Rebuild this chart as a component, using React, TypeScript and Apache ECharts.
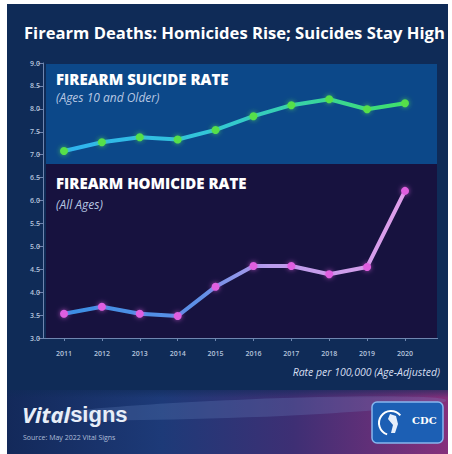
import React, { useEffect, useRef } from "react";
import * as echarts from "echarts";

const years = ["2011", "2012", "2013", "2014", "2015", "2016", "2017", "2018", "2019", "2020"];
const suicideRate = [7.08, 7.27, 7.38, 7.33, 7.54, 7.84, 8.08, 8.21, 7.99, 8.12];
const homicideRate = [3.53, 3.68, 3.53, 3.48, 4.12, 4.57, 4.57, 4.39, 4.55, 6.21];
const yMin = 3;
const yMax = 9;
const yStep = 0.5;

const chartTitle = "Firearm Deaths: Homicides Rise; Suicides Stay High";
const suicideLabel = "FIREARM SUICIDE RATE";
const suicideSub = "(Ages 10 and Older)";
const homicideLabel = "FIREARM HOMICIDE RATE";
const homicideSub = "(All Ages)";
const unitNote = "Rate per 100,000 (Age-Adjusted)";
const sourceNote = "Source: May 2022 Vital Signs";

export default function App() {
  const ref = useRef<HTMLDivElement>(null);
  useEffect(() => {
    if (!ref.current) return;
    const chart = echarts.init(ref.current, null, { renderer: "svg" });
    const font = "'Open Sans', 'Noto Sans', sans-serif";
    chart.setOption({
      animation: false,
      backgroundColor: "#ffffff",
      grid: { left: 64, right: 47, top: 63, bottom: 116 },
      xAxis: {
        type: "category",
        data: years,
        boundaryGap: false,
        axisLine: { show: false },
        axisTick: { show: true, length: 3, inside: false, lineStyle: { color: "#6f86b0" }, alignWithLabel: true },
        axisLabel: { color: "#b4c3dc", fontSize: 7, fontFamily: font, fontWeight: 600, margin: 12 },
        splitLine: { show: false },
      },
      yAxis: {
        type: "value",
        min: yMin,
        max: yMax,
        interval: yStep,
        offset: 21,
        axisLine: { show: true, lineStyle: { color: "#6f86b0", width: 1 } },
        axisTick: { show: true, length: 5, lineStyle: { color: "#6f86b0" } },
        axisLabel: {
          color: "#b4c3dc",
          fontSize: 7,
          fontFamily: font,
          fontWeight: 600,
          margin: 3,
          formatter: (v: number) => v.toFixed(1),
        },
        splitLine: { show: false },
      },
      graphic: [
        { type: "rect", z: -20, shape: { x: 7, y: 4, width: 441, height: 450 }, style: { fill: "#0f2b57" } },
        {
          type: "rect",
          z: -19,
          shape: { x: 7, y: 390, width: 441, height: 64 },
          style: {
            fill: new echarts.graphic.LinearGradient(0, 0, 1, 0, [
              { offset: 0, color: "#13295a" },
              { offset: 0.35, color: "#1d3a78" },
              { offset: 0.65, color: "#3e2f74" },
              { offset: 1, color: "#85307c" },
            ]),
          },
        },
        {
          type: "ellipse",
          z: -18,
          shape: { cx: 230, cy: 418, rx: 200, ry: 9 },
          rotation: 0.04,
          style: { fill: "rgba(120,150,210,0.22)" },
        },
        {
          type: "rect",
          z: -17,
          shape: { x: 7, y: 384, width: 441, height: 14 },
          style: {
            fill: new echarts.graphic.LinearGradient(0, 0, 0, 1, [
              { offset: 0, color: "rgba(15,43,87,1)" },
              { offset: 1, color: "rgba(15,43,87,0)" },
            ]),
          },
        },
        { type: "rect", z: -15, shape: { x: 46, y: 64, width: 391, height: 100 }, style: { fill: "#0c4889" } },
        { type: "rect", z: -15, shape: { x: 46, y: 164, width: 391, height: 174 }, style: { fill: "#17123f" } },
        { type: "line", z: 5, shape: { x1: 43, y1: 338.5, x2: 438, y2: 338.5 }, style: { stroke: "#6f86b0", lineWidth: 1.2 } },
        {
          type: "text",
          z: 10,
          x: 24,
          y: 32,
          style: {
            text: chartTitle,
            fill: "#ffffff",
            font: `bold 16.6px ${font}`,
            textVerticalAlign: "middle",
          },
        },
        {
          type: "text",
          z: 10,
          x: 56,
          y: 79,
          style: { text: suicideLabel, fill: "#ffffff", font: `800 15px ${font}`, textVerticalAlign: "middle" },
        },
        {
          type: "text",
          z: 10,
          x: 56,
          y: 97,
          style: { text: suicideSub, fill: "#b7c7e2", font: `italic 12px ${font}`, textVerticalAlign: "middle" },
        },
        {
          type: "text",
          z: 10,
          x: 56,
          y: 183,
          style: { text: homicideLabel, fill: "#ffffff", font: `800 15px ${font}`, textVerticalAlign: "middle" },
        },
        {
          type: "text",
          z: 10,
          x: 56,
          y: 204,
          style: { text: homicideSub, fill: "#b7c7e2", font: `italic 12px ${font}`, textVerticalAlign: "middle" },
        },
        {
          type: "text",
          z: 10,
          x: 440,
          y: 372,
          style: {
            text: unitNote,
            fill: "#d5def0",
            font: `italic 10.5px ${font}`,
            textAlign: "right",
            textVerticalAlign: "middle",
          },
        },
        {
          type: "text",
          z: 10,
          x: 22,
          y: 414,
          style: {
            text: "{a|Vital}{b|signs}",
            textVerticalAlign: "middle",
            rich: {
              a: { fill: "#e8eef8", font: `italic bold 22px ${font}` },
              b: { fill: "#e8eef8", font: `bold 22px 'Liberation Sans', Arial, sans-serif` },
            },
          },
        },
        {
          type: "text",
          z: 10,
          x: 23,
          y: 437,
          style: { text: sourceNote, fill: "#b0bed8", font: `7px ${font}`, textVerticalAlign: "middle" },
        },
        {
          type: "rect",
          z: 10,
          shape: { x: 372, y: 402, width: 71, height: 41, r: 5 },
          style: { fill: "#1c5fb4", stroke: "#86b6ee", lineWidth: 1.5 },
        },
        {
          type: "arc",
          z: 11,
          shape: { cx: 391, cy: 423, r: 12, startAngle: 1.9, endAngle: 5.6 },
          style: { stroke: "#ffffff", lineWidth: 2, fill: "none" },
        },
        {
          type: "polygon",
          z: 11,
          shape: { points: [[390, 414], [396, 416], [398, 424], [395, 433], [391, 433], [393, 425], [388, 419]] },
          style: { fill: "#e6eefb" },
        },
        {
          type: "text",
          z: 11,
          x: 412,
          y: 420,
          style: { text: "CDC", fill: "#ffffff", font: `bold 10px 'DejaVu Serif', serif`, textVerticalAlign: "middle" },
        },
      ],
      series: [
        {
          type: "line",
          data: suicideRate,
          z: 3,
          symbol: "circle",
          symbolSize: 8,
          lineStyle: {
            width: 4,
            color: new echarts.graphic.LinearGradient(0, 0, 1, 0, [
              { offset: 0, color: "#2fb3f0" },
              { offset: 0.45, color: "#33c7d6" },
              { offset: 1, color: "#3fe06a" },
            ]),
          },
          itemStyle: { color: "#56e04a", borderWidth: 0, shadowBlur: 5, shadowColor: "rgba(90,230,80,0.7)" },
        },
        {
          type: "line",
          data: homicideRate,
          z: 3,
          symbol: "circle",
          symbolSize: 8,
          lineStyle: {
            width: 4,
            color: new echarts.graphic.LinearGradient(0, 0, 1, 0, [
              { offset: 0, color: "#3a8fe4" },
              { offset: 0.4, color: "#5f8fe6" },
              { offset: 0.6, color: "#b89cec" },
              { offset: 1, color: "#df9fea" },
            ]),
          },
          itemStyle: { color: "#e05ee0", borderWidth: 0, shadowBlur: 5, shadowColor: "rgba(230,100,230,0.7)" },
        },
      ],
    });
    return () => chart.dispose();
  }, []);
  return <div ref={ref} style={{ position: "absolute", left: 0, top: 0, width: 452, height: 454 }} />;
}
